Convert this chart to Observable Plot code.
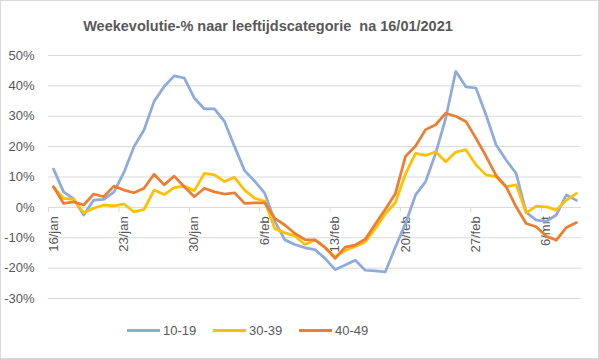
<!DOCTYPE html>
<html><head><meta charset="utf-8">
<script src="https://cdn.jsdelivr.net/npm/d3@7"></script>
<script src="https://cdn.jsdelivr.net/npm/@observablehq/plot@0.6"></script>
<style>
body{margin:0;background:#fff;font-family:"Liberation Sans",Arial,sans-serif;}
#chart{width:599px;height:359px;box-sizing:border-box;border:1px solid #d9d9d9;overflow:hidden;background:#fff;}
#title{height:39px;box-sizing:border-box;padding-top:18px;padding-right:63px;text-align:center;font-weight:bold;font-size:14.5px;line-height:15px;color:#595959;white-space:pre;}
#plot{height:280px;}
#plot svg{display:block;}
#legend{display:flex;align-items:center;height:20px;padding-left:126px;}
.item{width:86px;display:flex;align-items:center;font-size:13px;color:#595959;}
.sw{width:33px;height:3px;margin-right:3px;}
</style></head>
<body>
<div id="chart">
<div id="title">Weekevolutie-% naar leeftijdscategorie  na 16/01/2021</div>
<div id="plot"></div>
<div id="legend"></div>
</div>
<script>
const ageGroups = ["10-19", "30-39", "40-49"];
const colors = ["#8FAADC", "#FFC000", "#ED7D31"];
const firstDay = [2021, 0, 16];
const v1019 = [12.6,5.1,2.8,-2.5,2.4,2.6,5,11.5,20,25.5,34.9,39.8,43.3,42.6,36,32.4,32.4,28.3,20,12.1,8.6,4.7,-4.5,-10.7,-12.2,-13.3,-13.9,-16.8,-20.5,-19,-17.4,-20.7,-20.9,-21.2,-13,-5.3,4.1,8.5,17.8,29.4,44.8,39.7,39.3,30.5,20.6,15.6,11.2,-1.6,-4.2,-4.6,-2.5,4.1,2.3];
const v3039 = [6.6,3,2.6,-1.8,-0.3,0.8,0.5,1.1,-1.5,-0.7,5.7,4.2,6.5,7,5.5,11.2,10.7,8.5,9.9,5.7,3,2,-7,-8.4,-9.4,-12.2,-10.7,-13.2,-16.3,-14.2,-12.9,-11.4,-7,-2.1,1.6,11,17.8,17.1,18.3,15,18.2,19,14,10.7,10.1,6.8,7.4,-1.8,0.4,0.2,-0.9,2.4,4.6];
const v4049 = [6.8,1.3,1.8,0.8,4.4,3.5,7,5.7,4.8,6.3,10.9,7.4,10.3,6.8,3.5,6.3,5.1,4.4,4.8,1.3,1.5,1.5,-3.6,-5.8,-8.6,-10.6,-10.7,-13.2,-16.8,-13.1,-12.4,-10.5,-5.5,-0.6,4.6,16.8,20.2,25.6,27.2,31,30,28.3,22.8,16.9,10.5,6.8,0.2,-5.3,-6.4,-9.5,-10.8,-6.6,-5];
const tickLabels = ["16/jan", "23/jan", "30/jan", "6/feb", "13/feb", "20/feb", "27/feb", "6/mrt"];
const yTicks = [-30, -20, -10, 0, 10, 20, 30, 40, 50];

const start = new Date(Date.UTC(...firstDay));
const dates = v1019.map((_, i) => d3.utcDay.offset(start, i));
const rows = [];
[v1019, v3039, v4049].forEach((vals, k) => vals.forEach((v, i) => rows.push({date: dates[i], value: v, group: ageGroups[k]})));
const labels = tickLabels.map((t, j) => ({date: dates[j * 7], text: t}));
const tickDates = labels.map(d => d3.utcHour.offset(d.date, -12));

const chart = Plot.plot({
  width: 597, height: 280,
  marginTop: 15, marginBottom: 22, marginLeft: 47, marginRight: 17,
  style: {fontFamily: "Liberation Sans, Arial, sans-serif", fontSize: "13px", color: "#595959", background: "transparent"},
  x: {type: "utc", domain: [d3.utcHour.offset(dates[0], -12), d3.utcHour.offset(dates[dates.length - 1], 12)], axis: null},
  y: {domain: [-30, 50], axis: null},
  color: {domain: ageGroups, range: colors},
  marks: [
    Plot.gridY(yTicks, {stroke: "#d9d9d9", strokeOpacity: 1}),
    Plot.axisY(yTicks, {tickSize: 0, tickPadding: 14, tickFormat: d => d + "%", fill: "#595959", fontSize: 13, label: null}),
    Plot.ruleX(tickDates, {x: d => d, y1: 0, y2: -1.65, stroke: "#d9d9d9"}),
    Plot.text(labels, {x: "date", y: 0, text: "text", rotate: -90, textAnchor: "end", dy: 9, fill: "#595959", fontSize: 13}),
    Plot.lineY(rows, {x: "date", y: "value", stroke: "group", strokeWidth: 2.75, strokeLinejoin: "round"})
  ]
});
document.getElementById("plot").appendChild(chart);

const legend = document.getElementById("legend");
ageGroups.forEach((g, k) => {
  const it = document.createElement("div");
  it.className = "item";
  const sw = document.createElement("span");
  sw.className = "sw";
  sw.style.background = colors[k];
  it.appendChild(sw);
  it.appendChild(document.createTextNode(g));
  legend.appendChild(it);
});
</script>
</body></html>
